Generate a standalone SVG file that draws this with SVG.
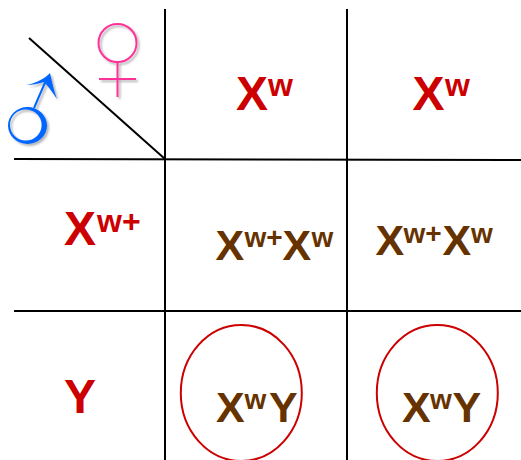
<svg xmlns="http://www.w3.org/2000/svg" width="521" height="460" viewBox="0 0 521 460">
<defs><filter id="sh" x="-30%" y="-30%" width="160%" height="160%"><feDropShadow dx="2" dy="2" stdDeviation="1.3" flood-color="#000" flood-opacity="0.3"/></filter></defs>
<style>
.l{stroke:#000;stroke-width:2;fill:none}
.t{font-family:"Liberation Sans",Arial,sans-serif;font-weight:bold}
.r{fill:#cc0000;font-size:48px}.b{fill:#663300;font-size:43px}
.e{fill:none;stroke:#cc0000;stroke-width:2}
.rs{font-size:32px}.bs{font-size:28px}
</style>
<rect width="521" height="460" fill="#fff"/>
<g id="connectors">
<line class="l" x1="165" y1="9" x2="165" y2="460"/>
<line class="l" x1="347" y1="9" x2="347" y2="460"/>
<line class="l" x1="14" y1="159" x2="521" y2="160"/>
<line class="l" x1="14" y1="311" x2="521" y2="311"/>
<line class="l" x1="29" y1="38" x2="165" y2="159"/>
</g>
<g id="female" filter="url(#sh)" fill="none" stroke="#ff3399" stroke-width="2"><circle cx="117.500" cy="43" r="19"/><path d="M117.500 62V97M99 79H136"/></g>
<g id="male" filter="url(#sh)"><path fill-rule="evenodd" fill="#0066ff" d="M8 125.500A19.500 18.500 0 1 0 47 125.500A19.500 18.500 0 1 0 8 125.500ZM10 125A15.800 15.500 0 1 1 41.600 125A15.800 15.500 0 1 1 10 125Z"/><path d="M34 108L47 78" fill="none" stroke="#0066ff" stroke-width="2"/><path d="M26 85C36 83 44 79 50 73C52 82 54 91 57 99C52 92 49 87 44 82C38 84 32 85 26 85Z" fill="#0066ff"/></g>
<g id="h1"><text class="t r" x="236" y="110">X<tspan class="rs" x="268" y="96">w</tspan></text></g>
<g id="h2"><text class="t r" x="412.500" y="110">X<tspan class="rs" x="445" y="96">w</tspan></text></g>
<g id="h3"><text class="t r" x="64" y="245">X<tspan class="rs" x="97" y="232">w+</tspan></text></g>
<g id="h4"><text class="t r" x="64" y="413">Y</text></g>
<g id="c1"><text class="t b" x="215.500" y="260">X<tspan class="bs" x="244.500" y="247">w+</tspan><tspan x="282.500" y="260">X</tspan><tspan class="bs" x="311.500" y="247">w</tspan></text></g>
<g id="c2"><text class="t b" x="375.500" y="255">X<tspan class="bs" x="403.500" y="243">w+</tspan><tspan x="442.500" y="255">X</tspan><tspan class="bs" x="471" y="243">w</tspan></text></g>
<g id="c3"><ellipse class="e" cx="241.300" cy="393" rx="60.500" ry="68"/><text class="t b" x="216" y="422">X<tspan class="bs" x="244.500" y="409">w</tspan><tspan x="269" y="422">Y</tspan></text></g>
<g id="c4"><ellipse class="e" cx="437.300" cy="393" rx="60.500" ry="68"/><text class="t b" x="402" y="422">X<tspan class="bs" x="430" y="409">w</tspan><tspan x="452.500" y="422">Y</tspan></text></g>
</svg>
